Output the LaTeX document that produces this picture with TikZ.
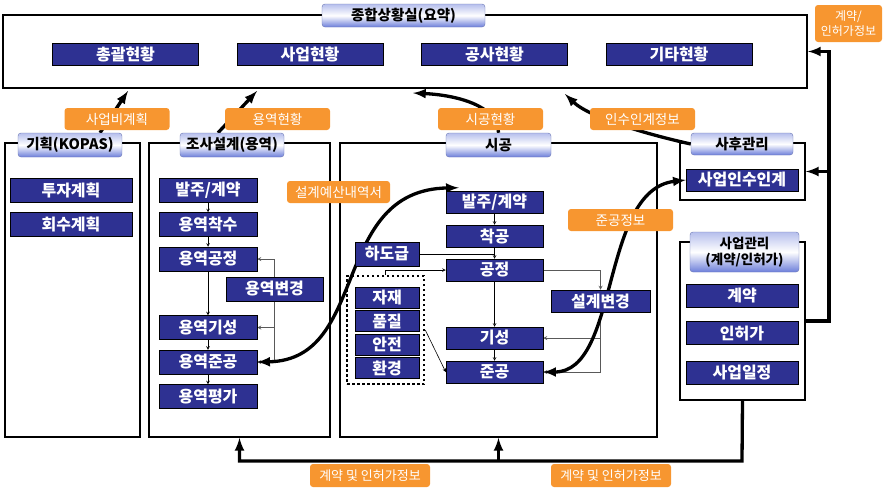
\documentclass[tikz,border=0pt]{standalone}
\usepackage{fontspec}
\setmainfont{Noto Sans CJK KR}
\usetikzlibrary{arrows,positioning}
\definecolor{boxblue}{RGB}{46,49,146}
\definecolor{tagorange}{RGB}{247,150,48}
\definecolor{tabblue}{RGB}{92,112,214}
\pgfdeclarelayer{bg}
\pgfsetlayers{bg,main}

\begin{document}
\begin{tikzpicture}[x=1pt,y=-1pt,node distance=12pt,
  frame/.style={draw,line width=1.6pt},
  tab/.style={draw=tabblue!60!gray,line width=0.4pt,rounded corners=3pt,top color=tabblue!45,bottom color=tabblue!90,middle color=white,font=\fontsize{14.5}{15}\selectfont\bfseries,inner sep=0pt,align=center},
  blk/.style={draw=black,line width=0.5pt,fill=boxblue,text=white,font=\fontsize{16}{16}\selectfont\bfseries,inner sep=0pt,minimum height=22pt},
  tag/.style={fill=tagorange,text=white,rounded corners=3pt,font=\fontsize{13.5}{14}\selectfont,inner sep=0pt,minimum width=105pt,minimum height=22pt,align=center},
  flow/.style={->,>=stealth,line width=0.6pt},
  back/.style={->,>=stealth,line width=0.8pt,draw=gray!70!black},
  bus/.style={-latex,line width=3.3pt},
  twoway/.style={bus,latex-latex}]
\useasboundingbox (0,0) rectangle (887,490);

% summary frame
\node[frame,line width=2pt,minimum width=804pt,minimum height=73pt] (top) at (405,51.5) {};
\node[tab,minimum width=163pt,minimum height=23pt] (toptab) at (403.5,15.5) {종합상황실(요약)};
\node[blk,minimum width=146pt] (sumall) at (125.5,54) {총괄현황};
\node[blk,minimum width=146pt,right=38pt of sumall] (sumbiz) {사업현황};
\node[blk,minimum width=146pt,right=38pt of sumbiz] (sumcons) {공사현황};
\node[blk,minimum width=146pt,right=38pt of sumcons] (sumetc) {기타현황};
\coordinate (tin1) at (128,91);
\coordinate (tin2) at (257,91);
\coordinate (tin3) at (413,93);
\coordinate (tin4) at (565,94);

% planning
\node[frame,minimum width=135pt,minimum height=294pt] (plan) at (72.5,290) {};
\node[tab,minimum width=104pt,minimum height=24pt] (plantab) at (70,145) {기획(KOPAS)};
\node[blk,minimum width=122pt,minimum height=24pt] (pinv) at (71,190) {투자계획};
\node[blk,minimum width=122pt,minimum height=24pt,below=10pt of pinv] (pret) {회수계획};

% design service
\node[frame,minimum width=181pt,minimum height=294pt] (design) at (239.5,290) {};
\node[tab,minimum width=104pt,minimum height=24pt] (designtab) at (232,145) {조사설계(용역)};
\node[blk,minimum width=98pt,minimum height=24pt] (dbid) at (208,190) {발주/계약};
\node[blk,minimum width=98pt,minimum height=24pt,below=10pt of dbid] (dstart) {용역착수};
\node[blk,minimum width=98pt,minimum height=24pt,below=10pt of dstart] (dsched) {용역공정};
\node[blk,minimum width=98pt,minimum height=24pt,below=44pt of dsched] (dpay) {용역기성};
\node[blk,minimum width=98pt,minimum height=24pt,below=10pt of dpay] (ddone) {용역준공};
\node[blk,minimum width=98pt,minimum height=24pt,below=10pt of ddone] (deval) {용역평가};
\node[blk,minimum width=97pt,minimum height=24pt] (dchg) at (274.5,289) {용역변경};

% construction
\node[frame,minimum width=317pt,minimum height=294pt] (cons) at (498.5,290) {};
\node[tab,minimum width=105pt,minimum height=24pt] (constab) at (498.5,145) {시공};
\node[blk,minimum width=97pt] (cbid) at (494.5,202) {발주/계약};
\node[blk,minimum width=97pt,below of=cbid,node distance=34pt] (cstart) {착공};
\node[blk,minimum width=97pt,below of=cstart,node distance=34pt] (cproc) {공정};
\node[blk,minimum width=97pt,below of=cproc,node distance=68pt] (cpay) {기성};
\node[blk,minimum width=97pt,below of=cpay,node distance=34pt] (cdone) {준공};
\node[blk,minimum width=64pt,minimum height=24pt] (csub) at (387,254) {하도급};
\node[blk,minimum width=99pt] (cchg) at (600.5,301) {설계변경};
\node[draw,line width=2.5pt,dash pattern=on 2.5pt off 2.5pt,minimum width=77pt,minimum height=108pt,inner sep=0pt] (cgrp) at (385.5,330) {};
\node[blk,minimum width=64pt,minimum height=21pt] (cmat) at (387,297.5) {자재};
\node[blk,minimum width=64pt,minimum height=21pt,below=2pt of cmat] (cqual) {품질};
\node[blk,minimum width=64pt,minimum height=21pt,below=2pt of cqual] (csafe) {안전};
\node[blk,minimum width=64pt,minimum height=21pt,below=2pt of csafe] (cenv) {환경};

% after care
\node[frame,minimum width=125pt,minimum height=57pt] (after) at (742.5,171.5) {};
\node[tab,minimum width=102pt,minimum height=22pt] (aftertab) at (742,144) {사후관리};
\node[blk,minimum width=112pt] (ahand) at (742,180) {사업인수인계};

% business management
\node[frame,minimum width=125pt,minimum height=158pt] (biz) at (742.5,321) {};
\node[tab,minimum width=109pt,minimum height=40pt,font=\fontsize{13.5}{16}\selectfont\bfseries] (biztab) at (744.5,252) {사업관리\\(계약/인허가)};
\node[blk,minimum width=112pt,minimum height=23pt] (bcont) at (742,295.5) {계약};
\node[blk,minimum width=112pt,minimum height=23pt,below=14pt of bcont] (bperm) {인허가};
\node[blk,minimum width=112pt,minimum height=23pt,below=16pt of bperm] (bsched) {사업일정};
\coordinate (rtop) at (829,51.5);
\coordinate (bbus) at (742,461);

% labels
\node[tag] (tbudget) at (117,119) {사업비계획};
\node[tag] (tdesign) at (277.5,119) {용역현황};
\node[tag] (tcons) at (490.5,119) {시공현황};
\node[tag] (thand) at (642.5,119) {인수인계정보};
\node[tag,minimum width=103pt] (testim) at (338.5,192) {설계예산내역서};
\node[tag] (tdone) at (620.5,220) {준공정보};
\node[tag,minimum width=67pt,minimum height=37pt,font=\fontsize{12}{15}\selectfont] (tperm) at (848.5,23.5) {계약/\\인허가정보};
\node[tag,minimum width=120pt,minimum height=23pt,font=\fontsize{13}{14}\selectfont] (tinfoA) at (370,475.5) {계약 및 인허가정보};
\node[tag,minimum width=120pt,minimum height=23pt,font=\fontsize{13}{14}\selectfont] (tinfoB) at (611,475.5) {계약 및 인허가정보};

\begin{pgfonlayer}{bg}
\draw[flow] (dbid) -- (dstart);
\draw[flow] (dstart) -- (dsched);
\draw[flow] (dsched) -- (dpay);
\draw[flow] (dpay) -- (ddone);
\draw[flow] (ddone) -- (deval);
\draw[back] (dchg.north) |- (dsched.east);
\draw[back] (dchg.south) |- (ddone.east);
\draw[back] (dchg.south |- dpay.east) -- (dpay.east);

\draw[flow] (cbid) -- (cstart);
\draw[flow] (cstart) -- (cproc);
\draw[flow] (cproc) -- (cpay);
\draw[flow] (cpay) -- (cdone);
\draw[line width=0.6pt] (csub.east) -- (cstart.south |- csub.east);
\draw[flow] (cgrp.north) |- (cproc.west);
\draw[flow] (cgrp.east) -- (cdone.west);
\draw[back] (cproc.east) -| (cchg.north);
\draw[back] (cchg.south) |- (cdone.east);
\draw[back] (cchg.south |- cpay.east) -- (cpay.east);

\draw[bus] ([xshift=30pt]plantab.north) -- (tin1);
\draw[bus] ([xshift=-14pt]designtab.north) -- (tin2);
\draw[bus] (constab.north) .. controls (498,105) and (455,95) .. (tin3);
\draw[bus] (aftertab.west) .. controls (650,135) and (590,118) .. (tin4);
\draw[twoway] (ddone.east) .. controls (370,360) and (330,190) .. ([xshift=13pt,yshift=3pt]cbid.north west);
\draw[twoway] (cdone.east) .. controls (620,372) and (600,190) .. (ahand.west);
\draw[bus] (biz.east) -| (rtop) -- (top.east);
\draw[bus] (rtop |- after.east) -- (after.east);
\draw[bus] (biz.south) -- (bbus) -| (design.south);
\draw[bus] (cons.south |- bbus) -- (cons.south);
\end{pgfonlayer}
\end{tikzpicture}
\end{document}
